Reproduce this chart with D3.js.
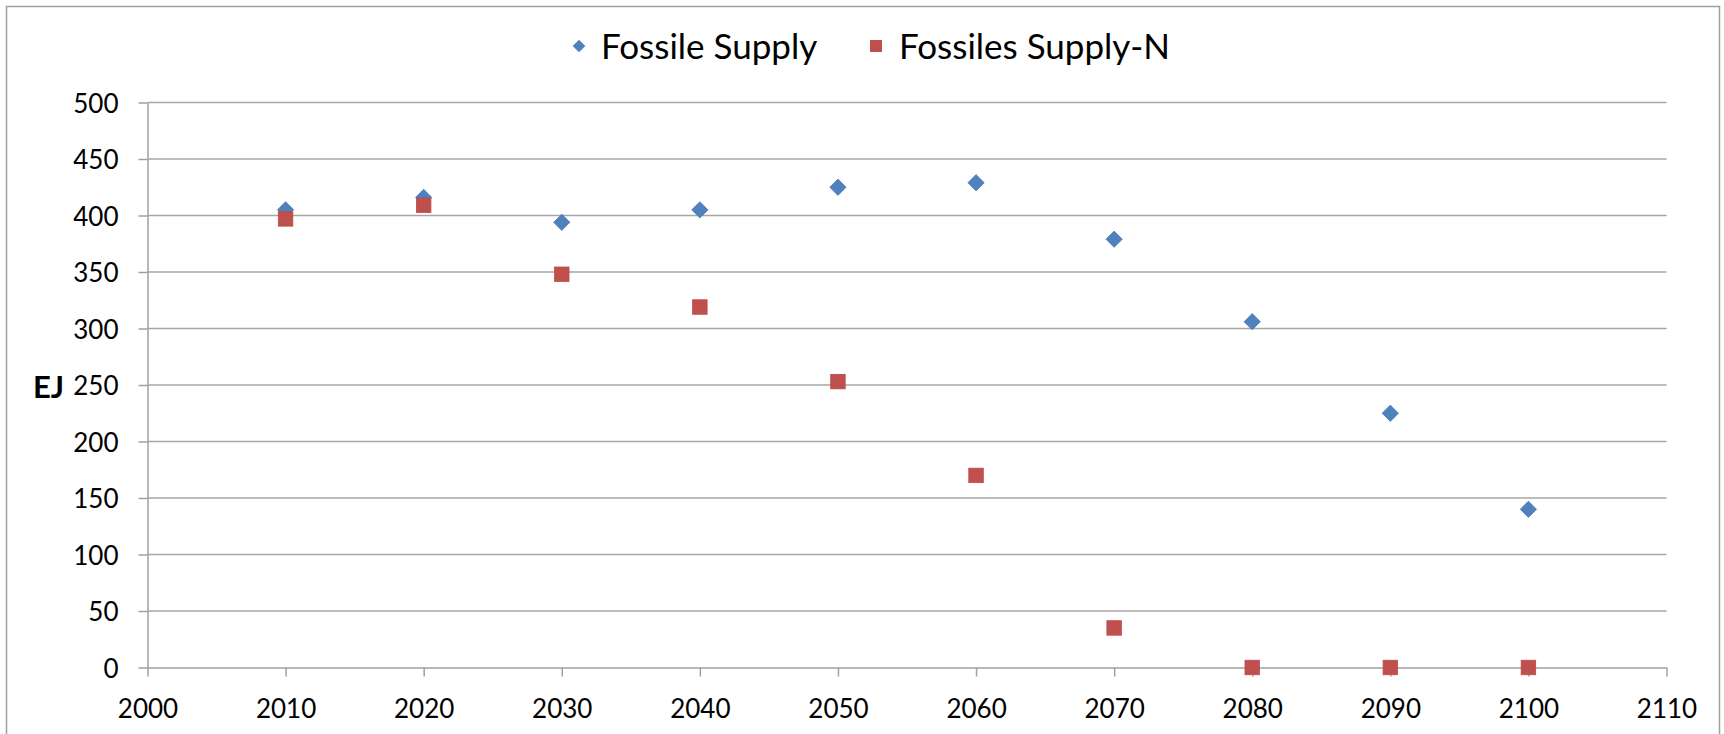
<!DOCTYPE html>
<meta charset="utf-8">
<script src="https://d3js.org/d3.v7.min.js"></script>
<style>
  body { margin: 0; background: #fff; }
  text { font-family: Lato, "Open Sans", sans-serif; fill: #000; }
  .grid line { stroke: #a6a6a6; stroke-width: 1.5; }
  .axis path, .axis line { stroke: #a0a0a0; stroke-width: 1.5; }
</style>
<body>
<svg id="chart" width="1724" height="734"></svg>
<script>
  // data
  var years = [2010, 2020, 2030, 2040, 2050, 2060, 2070, 2080, 2090, 2100];
  var fossilSupply = [405, 416, 394, 405, 425, 429, 379, 306, 225, 140];
  var fossilSupplyN = [397, 409, 348, 319, 253, 170, 35, 0, 0, 0];
  var xTicks = [2000, 2010, 2020, 2030, 2040, 2050, 2060, 2070, 2080, 2090, 2100, 2110];
  var yTicks = [0, 50, 100, 150, 200, 250, 300, 350, 400, 450, 500];
  var seriesNames = ["Fossile Supply", "Fossiles Supply-N"];

  var svg = d3.select("#chart");
  var blue = "#4f81bd", blueEdge = "#4a7ebb";
  var red = "#c0504d", redEdge = "#be4b48";

  // outer frame (bottom edge is outside the picture)
  svg.append("rect")
    .attr("x", 6.5).attr("y", 6.5)
    .attr("width", 1713).attr("height", 760)
    .attr("fill", "none").attr("stroke", "#a0a0a0").attr("stroke-width", 1.5);

  var plotLeft = 147.5, plotRight = 1666.5, plotTop = 102.5, plotBottom = 667.5;

  var x = d3.scaleLinear().domain([2000, 2110]).range([plotLeft, plotRight]);
  var y = d3.scaleLinear().domain([0, 500]).range([plotBottom, plotTop]);

  // horizontal gridlines
  svg.append("g").attr("class", "grid")
    .selectAll("line")
    .data(yTicks.filter(function (d) { return d > 0; }))
    .enter().append("line")
    .attr("x1", plotLeft).attr("x2", plotRight)
    .attr("y1", function (d) { return y(d); })
    .attr("y2", function (d) { return y(d); });

  // axes
  var xAxis = svg.append("g").attr("class", "axis")
    .attr("transform", "translate(0," + plotBottom + ")")
    .call(d3.axisBottom(x).tickValues(xTicks).tickFormat(d3.format("d")).tickSize(9).tickSizeOuter(0));
  xAxis.selectAll("text")
    .attr("font-size", 26).attr("dy", 0).attr("y", 50)
    .style("font-family", "Lato");

  var yAxis = svg.append("g").attr("class", "axis")
    .attr("transform", "translate(" + plotLeft + ",0)")
    .call(d3.axisLeft(y).tickValues(yTicks).tickSize(9).tickSizeOuter(0));
  yAxis.selectAll("text")
    .attr("font-size", 26).attr("x", -29).attr("dy", "0.38em")
    .style("font-family", "Lato");

  // y axis title
  svg.append("text")
    .attr("x", 33).attr("y", 387).attr("dy", "0.36em")
    .attr("font-size", 31).attr("font-weight", "bold")
    .text("EJ");

  // series 1: diamonds
  var dSide = 11.5;
  svg.append("g").selectAll("rect")
    .data(years)
    .enter().append("rect")
    .attr("x", -dSide / 2).attr("y", -dSide / 2)
    .attr("width", dSide).attr("height", dSide)
    .attr("transform", function (d, i) {
      return "translate(" + x(d) + "," + y(fossilSupply[i]) + ") rotate(45)";
    })
    .attr("fill", blue).attr("stroke", blueEdge).attr("stroke-width", 0.8);

  // series 2: squares
  var sSide = 14.5;
  svg.append("g").selectAll("rect")
    .data(years)
    .enter().append("rect")
    .attr("x", function (d) { return x(d) - sSide / 2; })
    .attr("y", function (d, i) { return y(fossilSupplyN[i]) - sSide / 2; })
    .attr("width", sSide).attr("height", sSide)
    .attr("fill", red).attr("stroke", redEdge).attr("stroke-width", 0.8);

  // legend
  var legend = svg.append("g");
  legend.append("rect")
    .attr("x", -4.5).attr("y", -4.5).attr("width", 9).attr("height", 9)
    .attr("transform", "translate(579,46) rotate(45)")
    .attr("fill", blue);
  legend.append("text")
    .attr("x", 601).attr("y", 46).attr("dy", "0.36em")
    .attr("font-size", 35)
    .text(seriesNames[0]);
  legend.append("rect")
    .attr("x", 870).attr("y", 40).attr("width", 12).attr("height", 12)
    .attr("fill", red);
  legend.append("text")
    .attr("x", 899).attr("y", 46).attr("dy", "0.36em")
    .attr("font-size", 35)
    .text(seriesNames[1]);
</script>
</body>
